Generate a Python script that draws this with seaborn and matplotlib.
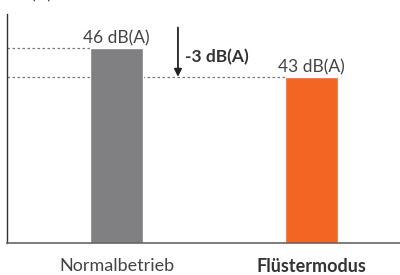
import matplotlib
matplotlib.use("Agg")
import matplotlib.pyplot as plt
import seaborn as sns
import pandas as pd

modes = ["Normalbetrieb", "Flüstermodus"]
levels = [46, 43]
labels = ["46 dB(A)", "43 dB(A)"]
colors = ["#808083", "#F26522"]
delta_text = "-3 dB(A)"

sns.set_theme(style="white")
plt.rcParams["font.family"] = ["Lato", "DejaVu Sans"]

df = pd.DataFrame({"mode": modes, "level": levels})

fig = plt.figure(figsize=(4, 2.75), dpi=100)
ax = fig.add_axes([7 / 400, 1 - 243 / 275, 393 / 400, 229 / 275])

sns.barplot(data=df, x="mode", y="level", hue="mode", palette=colors,
            width=0.27, legend=False, ax=ax, saturation=1)

ax.set_xlim(-0.562, 1.454)
ax.set_ylim(25.8, 49.5)

# dotted reference lines from the axis to each bar
for i, v in enumerate(levels):
    ax.hlines(v, -0.562, i - 0.135, colors="#777777", linestyles=(0, (2, 2)),
              linewidth=0.9, zorder=0)
    ax.text(i, v + 0.45, labels[i], ha="center", va="baseline",
            fontsize=12.5, color="#444444")

ax.annotate("", xy=(0.315, levels[1]), xytext=(0.315, 48.1),
            arrowprops=dict(arrowstyle="-|>", color="#222222", lw=1.3,
                            mutation_scale=11, shrinkA=0, shrinkB=0))
ax.text(0.35, 45.0, delta_text, ha="left", va="center", fontsize=12.5,
        fontweight="bold", color="#333333")

ax.set_xlabel("")
ax.set_ylabel("")
ax.set_yticks([])
ax.tick_params(axis="x", length=0, pad=11)
ax.set_xticks([0, 1])
ax.set_xticklabels(modes, fontsize=13, color="#444444")
ax.get_xticklabels()[1].set_fontweight("bold")
ax.get_xticklabels()[1].set_color("#333333")

for s in ["top", "right"]:
    ax.spines[s].set_visible(False)
ax.spines["left"].set_color("#333333")
ax.spines["bottom"].set_color("#666666")
ax.spines["left"].set_linewidth(1.0)
ax.spines["bottom"].set_linewidth(1.2)

# axis unit label, mostly cropped off at the top edge as in the original
fig.text(0.025, 1 + 1 / 275, "dB(A)", fontsize=12.5, color="#444444",
         va="baseline", ha="left")

fig.savefig("out.png", dpi=100)
